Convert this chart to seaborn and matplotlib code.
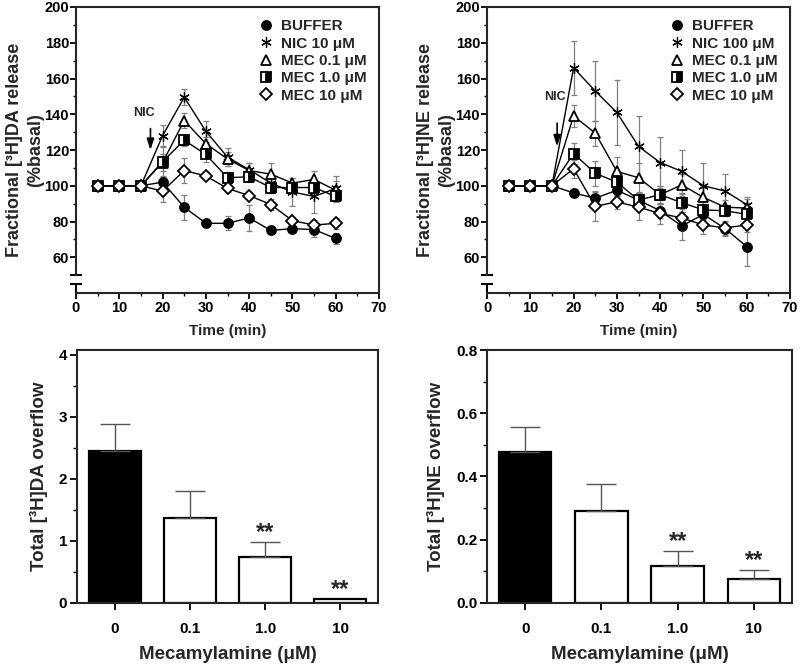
import numpy as np
import matplotlib
matplotlib.use("Agg")
import matplotlib.pyplot as plt
import matplotlib.transforms as mtransforms
from matplotlib.lines import Line2D
from matplotlib.ticker import FixedLocator, MultipleLocator
import seaborn as sns

# ---------------- data ----------------
time_min = [5, 10, 15, 20, 25, 30, 35, 40, 45, 50, 55, 60]

da_buffer = [100, 100, 100, 102, 88, 79, 79, 82, 75, 76, 75.5, 70.5]
da_buffer_err = [0, 0, 0, 3, 7, 2, 4, 7.5, 1, 2, 4, 3]
da_nic = [100, 100, 100, 128, 149.5, 130.5, 116, 109, 101.5, 96.5, 94, 98.5]
da_nic_err = [0, 0, 0, 6, 4.5, 6, 5, 4, 3, 8, 9, 7]
da_mec01 = [100, 100, 100, 113, 136.5, 123.5, 115, 108.5, 106.5, 101.5, 103.5, 97.5]
da_mec01_err = [0, 0, 0, 5, 4, 4, 4, 4, 6, 3, 5, 5]
da_mec1 = [100, 100, 100, 113.5, 125.5, 117.5, 104.5, 105, 99, 99, 99, 94]
da_mec1_err = [0, 0, 0, 8, 3, 4, 3, 3, 3, 3, 3, 3]
da_mec10 = [100, 100, 100, 97, 108.5, 105.5, 98.5, 94.5, 89.5, 80.5, 78, 79]
da_mec10_err = [0, 0, 0, 6, 7, 2, 2, 2, 3, 2, 3, 3]

ne_buffer = [100, 100, 100, 96, 93, 97.5, 92, 86, 77.5, 84, 76, 66]
ne_buffer_err = [0, 0, 0, 2, 4, 3, 4, 4, 8, 3, 4, 11]
ne_nic = [100, 100, 100, 166, 153, 141, 122, 113, 108, 100, 97, 89.5]
ne_nic_err = [0, 0, 0, 15, 17, 18, 17, 14.5, 12, 12.5, 9.7, 4]
ne_mec01 = [100, 100, 100, 139, 129.5, 108, 104.5, 95, 100.5, 93.5, 88, 87.5]
ne_mec01_err = [0, 0, 0, 6, 7, 8, 8, 5, 6, 6, 4, 5]
ne_mec1 = [100, 100, 100, 118, 107, 102, 92, 95, 90.5, 86.5, 86, 84]
ne_mec1_err = [0, 0, 0, 6, 7, 5, 4, 5, 5, 5, 3, 4]
ne_mec10 = [100, 100, 100, 109.5, 88.5, 91, 88, 84.5, 82, 78, 76.5, 78]
ne_mec10_err = [0, 0, 0, 5, 8, 4, 7, 6, 5, 5, 4, 4]

mec_labels = ["0", "0.1", "1.0", "10"]
da_total = [2.45, 1.37, 0.74, 0.06]
da_total_err = [0.43, 0.44, 0.25, 0.0]
da_sig = [False, False, True, True]
ne_total = [0.476, 0.292, 0.116, 0.077]
ne_total_err = [0.082, 0.084, 0.048, 0.027]
ne_sig = [False, False, True, True]

da_legend = ["BUFFER", "NIC 10 μM", "MEC 0.1 μM", "MEC 1.0 μM", "MEC 10 μM"]
ne_legend = ["BUFFER", "NIC 100 μM", "MEC 0.1 μM", "MEC 1.0 μM", "MEC 10 μM"]

# ---------------- style ----------------
sns.set_theme(style="ticks")
plt.rcParams["font.family"] = ["Liberation Sans", "DejaVu Sans"]
plt.rcParams["font.weight"] = "bold"
plt.rcParams["axes.labelweight"] = "bold"
plt.rcParams["axes.linewidth"] = 1.5
plt.rcParams["xtick.major.width"] = 1.3
plt.rcParams["ytick.major.width"] = 1.3
plt.rcParams["xtick.minor.width"] = 1.0
plt.rcParams["ytick.minor.width"] = 1.0
plt.rcParams["xtick.color"] = "black"
plt.rcParams["ytick.color"] = "black"

TICK_FS = 10.5
LAB_FS = 13

marker_styles = [
    dict(marker="o", markerfacecolor="black", markersize=6.5, markeredgewidth=1.3),
    dict(marker=(6, 2, 0), markerfacecolor="black", markersize=7.5, markeredgewidth=0.9),
    dict(marker="^", markerfacecolor="white", markersize=7, markeredgewidth=1.3),
    dict(marker="s", markerfacecolor="black", markerfacecoloralt="white",
         fillstyle="right", markersize=6.5, markeredgewidth=1.3),
    dict(marker="D", markerfacecolor="white", markersize=6, markeredgewidth=1.3),
]

fig = plt.figure(figsize=(8, 6.68), dpi=100)
W, H = 800, 668
ax1 = fig.add_axes([76 / W, 1 - 293 / H, 303 / W, 286 / H])
ax2 = fig.add_axes([487 / W, 1 - 293 / H, 303 / W, 286 / H])
ax3 = fig.add_axes([77 / W, 1 - 603 / H, 301 / W, 253 / H])
ax4 = fig.add_axes([487 / W, 1 - 603 / H, 305 / W, 253 / H])


def time_panel(ax, series, errs, labels, ylabel, nic_text_xy, arrow_x, arrow_y):
    for vals, err in zip(series, errs):
        ax.errorbar(time_min, vals, yerr=err, fmt="none", ecolor="#808080",
                    elinewidth=0.9, capsize=2.5, capthick=0.9, zorder=1)
    for vals, st in zip(series, marker_styles):
        sns.lineplot(x=time_min, y=vals, ax=ax, color="black", linewidth=1.0,
                     markeredgecolor="black", errorbar=None, zorder=3, **st)
    ax.set_xlim(0, 70)
    ax.set_ylim(40, 200)
    ax.xaxis.set_major_locator(MultipleLocator(10))
    ax.xaxis.set_minor_locator(MultipleLocator(5))
    ax.yaxis.set_major_locator(FixedLocator([60, 80, 100, 120, 140, 160, 180, 200]))
    ax.yaxis.set_minor_locator(FixedLocator([70, 90, 110, 130, 150, 170, 190]))
    ax.tick_params(which="major", direction="out", length=4, labelsize=TICK_FS, pad=1.5)
    ax.tick_params(axis="y", which="major", pad=1)
    ax.tick_params(which="minor", direction="out", length=2.5)
    for lab in ax.get_xticklabels() + ax.get_yticklabels():
        lab.set_fontweight("bold")
    ax.set_xlabel("Time (min)", fontsize=11, labelpad=7)
    ax.set_ylabel(ylabel, fontsize=LAB_FS, linespacing=1.3)
    ax.yaxis.set_label_coords(-0.105, 0.5)
    # broken y axis
    ax.spines["left"].set_bounds(50, 200)
    trans = mtransforms.blended_transform_factory(ax.transAxes, ax.transData)
    ax.plot([0, 0], [40, 45], transform=trans, color="black", lw=1.5, clip_on=False)
    ax.plot([0, 0], [50, 45], transform=trans, linestyle="none", marker="_",
            markersize=8, markeredgewidth=1.5, color="black", clip_on=False)
    # NIC annotation
    ax.text(nic_text_xy[0], nic_text_xy[1], "NIC", fontsize=9, fontweight="bold",
            ha="center", va="center")
    ax.annotate("", xy=(arrow_x, arrow_y[1]), xytext=(arrow_x, arrow_y[0]),
                arrowprops=dict(arrowstyle="-|>,head_width=0.18,head_length=0.55",
                                color="black", lw=1.2, shrinkA=0, shrinkB=0))
    handles = [Line2D([], [], linestyle="none", color="black",
                      markeredgecolor="black", **st)
               for st in marker_styles]
    ax.legend(handles, labels, loc="upper right", frameon=False,
              prop=dict(size=11, weight="bold"), handlelength=1.0,
              handletextpad=0.5, labelspacing=0.22, borderaxespad=0.4)


time_panel(ax1, [da_buffer, da_nic, da_mec01, da_mec1, da_mec10],
           [da_buffer_err, da_nic_err, da_mec01_err, da_mec1_err, da_mec10_err],
           da_legend, "Fractional [³H]DA release\n(%basal)",
           (15.8, 140.5), 17.2, (132, 120))
time_panel(ax2, [ne_buffer, ne_nic, ne_mec01, ne_mec1, ne_mec10],
           [ne_buffer_err, ne_nic_err, ne_mec01_err, ne_mec1_err, ne_mec10_err],
           ne_legend, "Fractional [³H]NE release\n(%basal)",
           (15.7, 149.5), 16.2, (135, 122))


def bar_panel(ax, vals, err, sig, ymax, major, minor, ylabel, tickfmt):
    sns.barplot(x=mec_labels, y=vals, hue=mec_labels, order=mec_labels,
                palette=["black", "white", "white", "white"], legend=False,
                edgecolor="black", linewidth=1.6, width=0.69, ax=ax, zorder=2)
    xs = np.arange(len(vals))
    v = np.asarray(vals)
    e = np.asarray(err)
    m = e > 0
    ax.errorbar(xs[m], v[m], yerr=[np.zeros(m.sum()), e[m]], fmt="none",
                ecolor="#555555", elinewidth=1.0, capsize=11, capthick=1.0, zorder=3)
    for xi, vi, ei, s in zip(xs, v, e, sig):
        if s:
            ax.annotate("**", xy=(xi, vi + ei), xytext=(0, 2),
                        textcoords="offset points", ha="center", va="baseline",
                        fontsize=17, fontweight="bold")
    ax.set_xlim(-0.5, 3.5)
    ax.set_ylim(0, ymax)
    ax.yaxis.set_major_locator(MultipleLocator(major))
    ax.yaxis.set_minor_locator(MultipleLocator(minor))
    ax.yaxis.set_major_formatter(tickfmt)
    ax.tick_params(which="major", direction="out", length=5, labelsize=TICK_FS + 0.5, pad=2)
    ax.tick_params(axis="x", pad=9)
    ax.tick_params(which="minor", direction="out", length=3)
    for lab in ax.get_xticklabels() + ax.get_yticklabels():
        lab.set_fontweight("bold")
    ax.set_xlabel("Mecamylamine (μM)", fontsize=13.5, labelpad=7)
    ax.set_ylabel(ylabel, fontsize=13.5, labelpad=8)


bar_panel(ax3, da_total, da_total_err, da_sig, 4.08, 1, 0.5,
          "Total [³H]DA overflow", "{x:.0f}")
bar_panel(ax4, ne_total, ne_total_err, ne_sig, 0.8, 0.2, 0.1,
          "Total [³H]NE overflow", "{x:.1f}")

fig.savefig("out.png", dpi=100)
